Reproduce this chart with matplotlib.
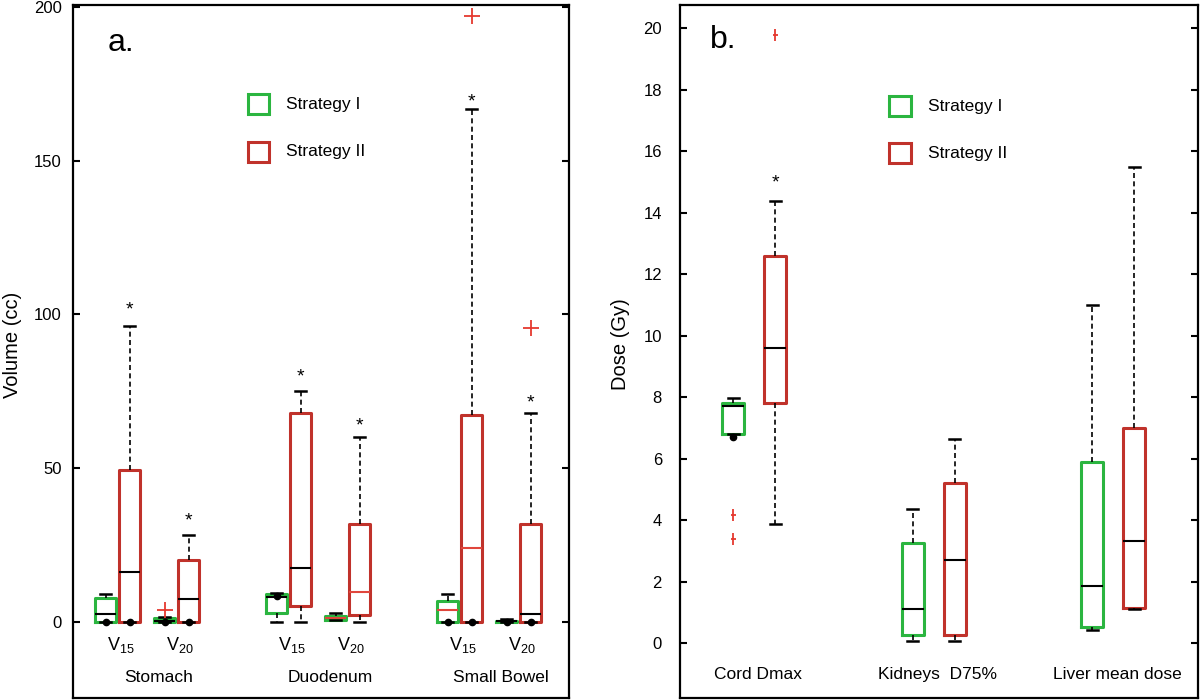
import matplotlib.pyplot as plt
from matplotlib.patches import Rectangle
from matplotlib.path import Path

plt.rcParams['font.family'] = ['Liberation Sans', 'DejaVu Sans']
plt.rcParams['mathtext.fontset'] = 'custom'
plt.rcParams['mathtext.rm'] = 'Liberation Sans'

GREEN = '#2bb540'
RED = '#c0322b'
MED_RED = '#e0463c'
FLIER_RED = '#e5392f'

# ---- panel a: volumes (cc) ----
organs_a = ['Stomach', 'Duodenum', 'Small Bowel']
metrics_a = ['15', '20']
# order: Stomach V15, Stomach V20, Duodenum V15, Duodenum V20, Small Bowel V15, Small Bowel V20
s1_q1_a = [0, 0, 2.7, 0.5, 0, 0]
s1_med_a = [2.4, 0.3, 8.1, 1.2, 3.8, 0.1]
s1_q3_a = [7.6, 1.1, 9.1, 1.85, 6.7, 0.3]
s1_lo_a = [0, 0, 0, 0.5, 0, 0]
s1_hi_a = [8.9, 1.6, 9.5, 2.9, 8.9, 0.9]
s1_out_a = [[], [3.8], [], [], [], []]
s1_dot_a = [0, 0, 8.3, None, 0, 0]
s1_medcol_a = ['k', 'k', 'k', MED_RED, MED_RED, 'k']

s2_q1_a = [0, 0, 5.2, 2.2, 0, 0]
s2_med_a = [16.1, 7.4, 17.5, 9.6, 24.0, 2.4]
s2_q3_a = [49.3, 20.2, 68.0, 31.9, 67.4, 31.9]
s2_lo_a = [0, 0, 0, 0, 0, 0]
s2_hi_a = [96.3, 28.3, 75.0, 60.0, 166.7, 68.0]
s2_out_a = [[], [], [], [], [197.0], [95.6]]
s2_dot_a = [0, 0, None, None, 0, 0]
s2_medcol_a = ['k', 'k', 'k', MED_RED, MED_RED, 'k']
s2_star_a = [103.5, 34.9, 81.7, 65.8, 171.3, 73.3]

# ---- panel b: doses (Gy) ----
organs_b = ['Cord Dmax', 'Kidneys  D75%', 'Liver mean dose']
s1_q1_b = [6.81, 0.27, 0.54]
s1_med_b = [7.71, 1.10, 1.87]
s1_q3_b = [7.83, 3.25, 5.91]
s1_lo_b = [6.81, 0.08, 0.42]
s1_hi_b = [7.98, 4.36, 11.0]
s1_out_b = [[4.16, 3.38], [], []]
s1_dot_b = [6.7, None, None]

s2_q1_b = [7.82, 0.27, 1.16]
s2_med_b = [9.62, 2.70, 3.32]
s2_q3_b = [12.6, 5.2, 7.0]
s2_lo_b = [3.89, 0.08, 1.10]
s2_hi_b = [14.4, 6.65, 15.5]
s2_out_b = [[19.8], [], []]
s2_dot_b = [None, None, None]
s2_star_b = [15.2, None, None]

tall_plus = Path([(0, -1), (0, 1), (-0.45, 0), (0.45, 0)],
                 [Path.MOVETO, Path.LINETO, Path.MOVETO, Path.LINETO])


def draw_boxes(ax, pos, q1, med, q3, lo, hi, out, color, medcols, width, capw, marker, ms):
    stats = [dict(q1=a, med=m, q3=b, whislo=l, whishi=h, fliers=f)
             for a, m, b, l, h, f in zip(q1, med, q3, lo, hi, out)]
    art = ax.bxp(stats, positions=pos, widths=width, capwidths=capw, showfliers=True,
                 boxprops=dict(color=color, lw=2.2),
                 whiskerprops=dict(color='k', lw=1.2, ls=(0, (3, 2))),
                 capprops=dict(color='k', lw=1.8),
                 medianprops=dict(color='k', lw=1.5),
                 flierprops=dict(marker=marker, markeredgecolor=FLIER_RED, markerfacecolor='none',
                                 markersize=ms, markeredgewidth=1.3, linestyle='none'))
    for line, c in zip(art['medians'], medcols):
        line.set_color(c)


def draw_dots(ax, pos, dots):
    xs = [p for p, d in zip(pos, dots) if d is not None]
    ys = [d for d in dots if d is not None]
    ax.plot(xs, ys, 'o', color='k', ms=4.5, zorder=4)


def draw_stars(ax, pos, stars):
    for p, s in zip(pos, stars):
        if s is not None:
            ax.annotate('*', (p, s), xytext=(0, -8), textcoords='offset points',
                        ha='center', va='baseline', fontsize=14)


def legend(ax, x_box, x_txt, w, h, ys):
    for y, col, lab in zip(ys, [GREEN, RED], ['Strategy I', 'Strategy II']):
        ax.add_patch(Rectangle((x_box, y - h / 2), w, h, transform=ax.transAxes,
                               fill=False, edgecolor=col, lw=2.2, clip_on=False))
        ax.text(x_txt, y, lab, transform=ax.transAxes, ha='left', va='center', fontsize=12.5)


def style(ax):
    for s in ax.spines.values():
        s.set_linewidth(1.6)
    ax.tick_params(axis='y', direction='in', left=True, right=True, length=5, width=1.5,
                   labelsize=12)
    ax.tick_params(axis='x', bottom=False, labelbottom=False)


fig = plt.figure(figsize=(12, 7), dpi=100)

# panel a
ax1 = fig.add_axes([73 / 1200, 2 / 700, 496 / 1200, 693 / 700])
pos_s1_a, pos_s2_a, pair_a = [], [], []
for i in range(len(organs_a)):
    c = 74 + 171 * i
    for m_off in (-29.5, 29.5):
        pair_a.append(c + m_off)
        pos_s1_a.append(c + m_off - 12)
        pos_s2_a.append(c + m_off + 12)

draw_boxes(ax1, pos_s1_a, s1_q1_a, s1_med_a, s1_q3_a, s1_lo_a, s1_hi_a, s1_out_a,
           GREEN, s1_medcol_a, 21, 11, '+', 11)
draw_boxes(ax1, pos_s2_a, s2_q1_a, s2_med_a, s2_q3_a, s2_lo_a, s2_hi_a, s2_out_a,
           RED, s2_medcol_a, 21, 11, '+', 11)
draw_dots(ax1, pos_s1_a, s1_dot_a)
draw_dots(ax1, pos_s2_a, s2_dot_a)
draw_stars(ax1, pos_s2_a, s2_star_a)

for k, p in enumerate(pair_a):
    ax1.text(p + 3, -7.6, 'V$_{\\mathrm{' + metrics_a[k % 2] + '}}$', ha='center', va='center',
             fontsize=13)
for i, name in enumerate(organs_a):
    ax1.text(74 + 171 * i + 12, -18, name, ha='center', va='center', fontsize=12.5)

ax1.set_xlim(0, 496)
ax1.set_ylim(-24.8, 200.6)
ax1.set_yticks([0, 50, 100, 150, 200])
style(ax1)
ax1.tick_params(axis='y', pad=8)
ax1.set_ylabel('Volume (cc)', fontsize=14.5)
ax1.yaxis.set_label_coords(-0.103, 0.51)
ax1.text(0.07, 0.945, 'a.', transform=ax1.transAxes, fontsize=23, va='center', ha='left')
legend(ax1, 0.353, 0.429, 21 / 496, 20 / 693, [0.857, 0.788])

# panel b
ax2 = fig.add_axes([680 / 1200, 2 / 700, 518 / 1200, 693 / 700])
pos_s1_b = [74 + 179.5 * i - 21 for i in range(len(organs_b))]
pos_s2_b = [74 + 179.5 * i + 21 for i in range(len(organs_b))]

draw_boxes(ax2, pos_s1_b, s1_q1_b, s1_med_b, s1_q3_b, s1_lo_b, s1_hi_b, s1_out_b,
           GREEN, ['k'] * 3, 22, 11, tall_plus, 8)
draw_boxes(ax2, pos_s2_b, s2_q1_b, s2_med_b, s2_q3_b, s2_lo_b, s2_hi_b, s2_out_b,
           RED, ['k'] * 3, 22, 11, tall_plus, 8)
draw_dots(ax2, pos_s1_b, s1_dot_b)
draw_dots(ax2, pos_s2_b, s2_dot_b)
draw_stars(ax2, pos_s2_b, s2_star_b)

for i, name in enumerate(organs_b):
    ax2.text(74 + 179.5 * i + 4, -1.0, name, ha='center', va='center', fontsize=12.5)

ax2.set_xlim(0, 518)
ax2.set_ylim(-1.78, 20.76)
ax2.set_yticks(range(0, 21, 2))
style(ax2)
ax2.tick_params(axis='y', pad=13)
ax2.set_ylabel('Dose (Gy)', fontsize=14.5)
ax2.yaxis.set_label_coords(-0.097, 0.51)
ax2.text(0.058, 0.95, 'b.', transform=ax2.transAxes, fontsize=23, va='center', ha='left')
legend(ax2, 0.403, 0.479, 22 / 518, 20 / 693, [0.854, 0.786])

fig.savefig('out.png', dpi=100)
